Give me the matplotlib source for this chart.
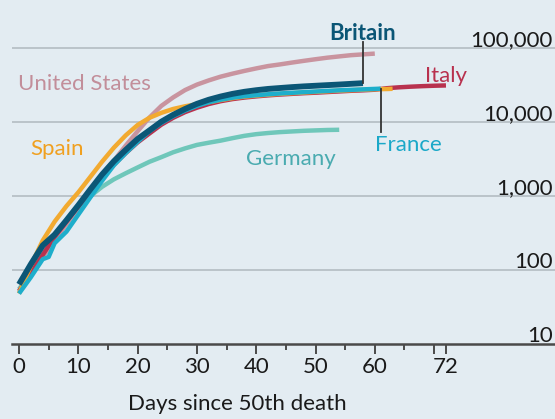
import matplotlib.pyplot as plt
import matplotlib.transforms as mtransforms
import numpy as np

# cumulative deaths (day since 50th death : deaths)
britain_days = [0, 2, 4, 6, 8, 10, 12, 14, 16, 18, 20, 22, 24, 26, 28, 30, 32, 34, 36, 38, 40, 42, 44, 46, 48, 50, 52, 54, 56, 58]
britain = [64, 120, 215, 300, 470, 750, 1220, 1950, 2950, 4200, 5900, 7700, 10100, 12500, 15000, 17600, 20000, 22100, 24000, 25600, 26900, 28000, 28800, 29600, 30300, 30900, 31500, 32100, 32800, 33500]

us_days = [0, 2, 4, 6, 8, 10, 12, 14, 16, 18, 20, 22, 24, 26, 28, 30, 32, 34, 36, 38, 40, 42, 44, 46, 48, 50, 52, 54, 56, 58, 60]
us = [50, 85, 150, 250, 420, 700, 1150, 1900, 3000, 4800, 7500, 11500, 16500, 21500, 27000, 32000, 36500, 41000, 45000, 49000, 53000, 57000, 60000, 63500, 67000, 70500, 74000, 77000, 80000, 82000, 84000]

italy_days = [0, 2, 4, 6, 8, 10, 12, 14, 16, 18, 20, 22, 24, 26, 28, 30, 32, 34, 36, 38, 40, 42, 44, 46, 48, 50, 52, 54, 56, 58, 60, 62, 64, 66, 68, 70, 72]
italy = [52, 90, 160, 280, 450, 720, 1120, 1750, 2650, 3800, 5300, 7000, 9200, 11400, 13600, 15600, 17500, 19100, 20400, 21400, 22200, 22900, 23500, 24000, 24500, 24900, 25400, 25900, 26400, 26800, 27300, 28600, 29400, 30000, 30500, 30900, 31200]

spain_days = [0, 2, 4, 6, 8, 10, 12, 14, 16, 18, 20, 22, 24, 26, 28, 30, 32, 34, 36, 38, 40, 42, 44, 46, 48, 50, 52, 54, 56, 58, 60, 62, 63]
spain = [48, 115, 250, 450, 730, 1120, 1800, 2900, 4500, 6600, 9100, 11400, 13300, 15000, 16300, 17400, 18500, 19800, 21000, 22000, 22700, 23400, 24000, 24500, 25000, 25500, 26000, 26500, 26900, 27300, 27700, 27900, 28100]

france_days = [0, 2, 4, 5, 6, 8, 10, 12, 14, 16, 18, 20, 22, 24, 26, 28, 30, 32, 34, 36, 38, 40, 42, 44, 46, 48, 50, 52, 54, 56, 58, 60, 61]
france = [48, 80, 140, 150, 230, 330, 560, 950, 1600, 2600, 3800, 5400, 7500, 9700, 12000, 14300, 16500, 18500, 20000, 21300, 22300, 23000, 23700, 24300, 24800, 25300, 25800, 26300, 26800, 27200, 27600, 28000, 28200]

germany_days = [0, 2, 4, 6, 8, 10, 12, 14, 16, 18, 20, 22, 24, 26, 28, 30, 32, 34, 36, 38, 40, 42, 44, 46, 48, 50, 52, 54]
germany = [55, 95, 170, 280, 420, 690, 990, 1330, 1680, 2030, 2430, 2900, 3350, 3900, 4400, 4900, 5250, 5600, 6050, 6500, 6850, 7100, 7300, 7450, 7600, 7700, 7800, 7850]

xticks = [0, 10, 20, 30, 40, 50, 60, 70, 72]
xtick_labels = ["0", "10", "20", "30", "40", "50", "60", "", "72"]
yticks = [10, 100, 1000, 10000, 100000]
ytick_labels = ["10", "100", "1,000", "10,000", "100,000"]

bg = "#e3ecf2"
plt.rcParams['font.family'] = ['Lato', 'DejaVu Sans']

fig = plt.figure(figsize=(5.55, 4.19), dpi=100, facecolor=bg)
ax = fig.add_axes([12 / 555, 75 / 419, 543 / 555, 344 / 419])
ax.set_facecolor(bg)
ax.set_yscale('log')
ax.set_xlim(-7 / 5.93, 536 / 5.93)
ax.set_ylim(10, 10 ** (1 + 344 / 74))

for s in ['top', 'right', 'left']:
    ax.spines[s].set_visible(False)
ax.spines['bottom'].set_color('#4a4a4a')
ax.spines['bottom'].set_linewidth(1.8)

# gridlines
for v in yticks[1:]:
    ax.axhline(v, color='#b3bcc3', lw=1.2, zorder=0)

ax.set_yticks([])
ax.minorticks_off()
ax.set_xticks(xticks)
ax.set_xticklabels(xtick_labels)
ax.set_xticks(list(range(5, 70, 10)), minor=True)
ax.tick_params(axis='x', which='major', length=7, width=1.4, color='#4a4a4a',
               labelsize=16, labelcolor='#1a1a1a', pad=2)
ax.tick_params(axis='x', which='minor', length=4, width=1.4, color='#4a4a4a')
ax.set_xlabel("Days since 50th death", fontsize=16, color='#1a1a1a')
ax.xaxis.set_label_coords(225 / 543, -0.145)

# y labels sit above the gridlines on the right
trans = mtransforms.blended_transform_factory(ax.transAxes, ax.transData)
off = mtransforms.offset_copy(trans, fig=fig, x=0, y=2, units='dots')
for v, lab in zip(yticks, ytick_labels):
    ax.text(0.996, v, lab, transform=off, ha='right', va='baseline',
            fontsize=16, color='#1a1a1a')

# lines
ax.plot(germany_days, germany, color='#6fc7ba', lw=3.2, solid_capstyle='butt', zorder=2)
ax.plot(us_days, us, color='#c9949f', lw=3.2, solid_capstyle='butt', zorder=3)
ax.plot(italy_days, italy, color='#b8314e', lw=3.2, solid_capstyle='butt', zorder=3)
ax.plot(spain_days, spain, color='#f2aa30', lw=3.2, solid_capstyle='butt', zorder=4)
ax.plot(france_days, france, color='#1eaecb', lw=3.2, solid_capstyle='butt', zorder=5)
ax.plot(britain_days, britain, color='#0b5676', lw=4.2, solid_capstyle='butt', zorder=6)

# connectors
ax.plot([britain_days[-1]] * 2, [britain[-1], 10 ** (1 + 302 / 74)], color='#333333', lw=1.3, zorder=7)
ax.plot([france_days[-1]] * 2, [france[-1], 10 ** (1 + 212 / 74)], color='#333333', lw=1.3, zorder=7)

# labels
ax.text(-0.2, 10 ** (1 + 260 / 74), "United States", color='#c28e9a', fontsize=16, ha='left', va='center')
ax.text(57.9, 10 ** (1 + 304 / 74), "Britain", color='#0b5676', fontsize=16, fontweight='bold', ha='center', va='baseline')
ax.text(68.4, 10 ** (1 + 262 / 74), "Italy", color='#b8314e', fontsize=16, ha='left', va='baseline')
ax.text(1.9, 10 ** (1 + 189 / 74), "Spain", color='#f0a020', fontsize=16, ha='left', va='baseline')
ax.text(38.2, 10 ** (1 + 179 / 74), "Germany", color='#4aabb0', fontsize=16, ha='left', va='baseline')
ax.text(60.1, 10 ** (1 + 193 / 74), "France", color='#1aa8c8', fontsize=16, ha='left', va='baseline')

fig.savefig("out.png", dpi=100, facecolor=bg)
